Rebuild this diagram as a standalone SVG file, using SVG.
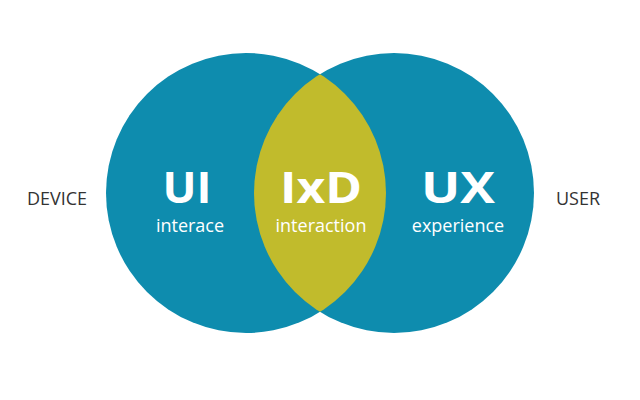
<svg xmlns="http://www.w3.org/2000/svg" width="640" height="400" viewBox="0 0 640 400">
<style>
.c{fill:#0e8cae}
.big{font-family:"Open Sans","Noto Sans",sans-serif;font-weight:bold;font-size:43px;fill:#fff;text-anchor:middle}
.sm{font-family:"Open Sans","Noto Sans",sans-serif;font-size:18px;fill:#fff;text-anchor:middle}
.lbl{font-family:"Open Sans","Noto Sans",sans-serif;font-size:18px;fill:#333;text-anchor:middle}
</style>
<defs>
<clipPath id="clipL"><circle cx="246" cy="193" r="140"/></clipPath>
</defs>
<rect width="640" height="400" fill="#fff"/>
<g id="ui">
<circle class="c" cx="246" cy="193" r="140"/>
</g>
<g id="ux">
<circle class="c" cx="394" cy="193" r="140"/>
</g>
<g id="ixd">
<circle cx="394" cy="193" r="140" fill="#c1bb2c" clip-path="url(#clipL)"/>
</g>
<g id="labels">
<text class="big" x="187" y="203" textLength="49" lengthAdjust="spacingAndGlyphs">UI</text>
<text class="sm" x="190" y="232">interace</text>
<text class="big" x="321" y="203" textLength="82" lengthAdjust="spacingAndGlyphs">IxD</text>
<text class="sm" x="321" y="232">interaction</text>
<text class="big" x="458" y="203" textLength="74" lengthAdjust="spacingAndGlyphs">UX</text>
<text class="sm" x="458" y="232">experience</text>
</g>
<g id="device"><text class="lbl" x="57" y="205">DEVICE</text></g>
<g id="user"><text class="lbl" x="578" y="205">USER</text></g>
</svg>
